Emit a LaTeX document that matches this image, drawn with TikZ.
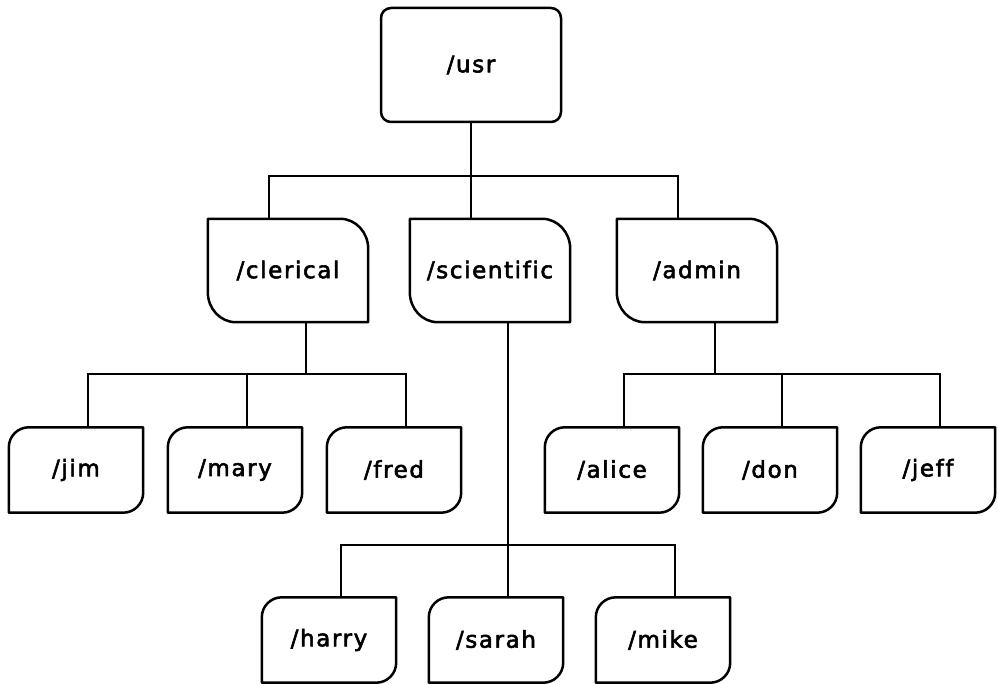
\documentclass[tikz,border=0pt]{standalone}
\usepackage{fontspec}
\newfontfamily\lblfont[LetterSpace=7, FakeBold=2.5, Ligatures=NoCommon]{DejaVu Sans}
\tikzset{
  boxline/.style={line width=2.5pt, line join=round},
  conn/.style={line width=1.8pt},
  label/.style={font=\fontsize{23}{27}\selectfont\lblfont},
  usrbox/.style={label, rectangle, draw, boxline, rounded corners=10pt, minimum width=180pt, minimum height=114pt, inner sep=0pt},
  midbox/.style={label, rectangle, minimum width=160pt, minimum height=103pt, inner sep=0pt},
  leafbox/.style={label, rectangle, minimum width=134pt, minimum height=85pt, inner sep=0pt},
}
\newcommand{\midoutline}[1]{%
  \draw[boxline] (#1.north west) -- ([xshift=-28pt]#1.north east)
    arc[start angle=90, end angle=0, x radius=28pt, y radius=30pt]
    -- (#1.south east) -- ([xshift=28pt]#1.south west)
    arc[start angle=270, end angle=180, x radius=28pt, y radius=30pt] -- cycle;}
\newcommand{\leafoutline}[1]{%
  \draw[boxline] ([xshift=20pt]#1.north west) -- (#1.north east)
    -- ([yshift=20pt]#1.south east)
    arc[start angle=0, end angle=-90, radius=20pt]
    -- (#1.south west) -- ([yshift=-20pt]#1.north west)
    arc[start angle=180, end angle=90, radius=20pt] -- cycle;}
\begin{document}
\begin{tikzpicture}[x=1pt, y=-1pt]
\useasboundingbox (0,0) rectangle (997,684);
% nodes
\node[usrbox] (usr) at (471,65) {/usr};
\node[midbox] (clerical) at (288,270.5) {/clerical};
\node[midbox] (scientific) at (490,270.5) {/scientific};
\node[midbox] (admin) at (697,270.5) {/admin};
\node[leafbox] (jim) at (76,470) {/jim};
\node[leafbox] (mary) at (235,470) {/mary};
\node[leafbox] (fred) at (394,470) {/fred};
\node[leafbox] (alice) at (612,470) {/alice};
\node[leafbox] (don) at (770,470) {/don};
\node[leafbox] (jeff) at (928,470) {/jeff};
\node[leafbox] (harry) at (329,640) {/harry};
\node[leafbox] (sarah) at (496,640) {/sarah};
\node[leafbox] (mike) at (663,640) {/mike};
% outlines
\midoutline{clerical}
\midoutline{scientific}
\midoutline{admin}
\foreach \n in {jim,mary,fred,alice,don,jeff,harry,sarah,mike} {\leafoutline{\n}}
% bar coordinates
\coordinate (b0) at (471,176);
\coordinate (b1) at (306,374);
\coordinate (b2) at (715,374);
\coordinate (b3) at (508,545);
% connectors
\draw[conn] (usr.south) -- ([xshift=-19pt]scientific.north);
\draw[conn] ([xshift=-19pt]clerical.north) |- (b0) -| ([xshift=-19pt]admin.north);
\draw[conn] ([xshift=18pt]clerical.south) -- (b1);
\draw[conn] ([xshift=12pt]jim.north) |- (b1) -| ([xshift=12pt]fred.north);
\draw[conn] ([xshift=12pt]mary.north) -- ([xshift=12pt]mary.north |- b1);
\draw[conn] ([xshift=18pt]admin.south) -- (b2);
\draw[conn] ([xshift=12pt]alice.north) |- (b2) -| ([xshift=12pt]jeff.north);
\draw[conn] ([xshift=12pt]don.north) -- ([xshift=12pt]don.north |- b2);
\draw[conn] ([xshift=18pt]scientific.south) -- ([xshift=12pt]sarah.north);
\draw[conn] ([xshift=12pt]harry.north) |- (b3) -| ([xshift=12pt]mike.north);
\end{tikzpicture}
\end{document}
